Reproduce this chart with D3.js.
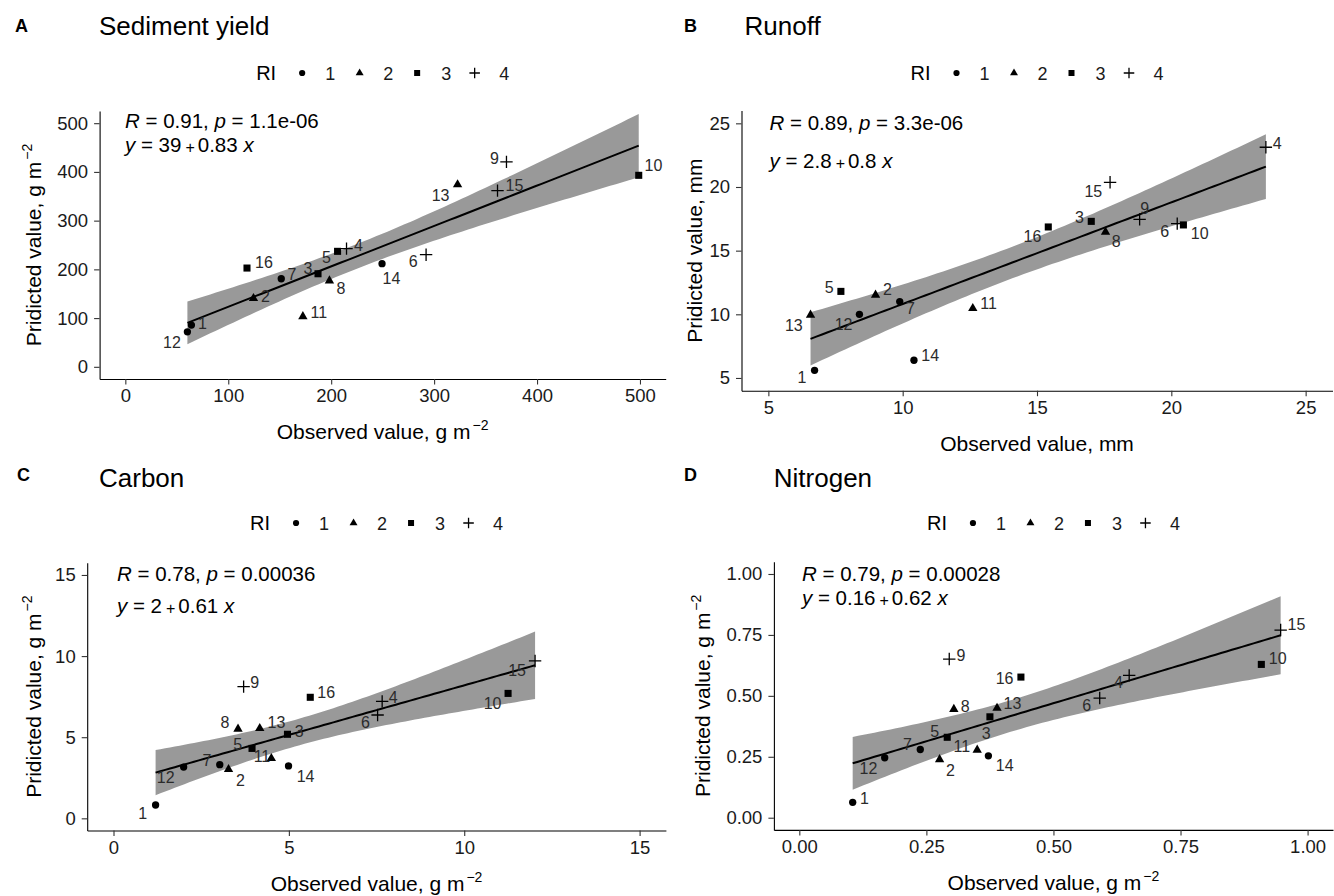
<!DOCTYPE html>
<html><head><meta charset="utf-8">
<script src="https://cdn.jsdelivr.net/npm/d3@7"></script>
<style>
body{margin:0;background:#fff}
svg{display:block}
text{font-family:"Liberation Sans", Arial, Helvetica, sans-serif}
</style>
</head><body>
<svg id="chart" width="1334" height="896"></svg>
<script>
// ---------------- DATA (sample id 1..16) ----------------
const sampleIds = [1,2,3,4,5,6,7,8,9,10,11,12,13,14,15,16];
const riGroup   = [1,2,3,4,3,4,1,2,4,3,2,1,2,1,4,3];
const riLevels  = [1,2,3,4];

const sedimentObserved  = [64.2,124.5,187.2,214.9,206.2,292.2,151.5,198.3,370.3,498.8,172.5,60.3,322.8,249.4,361.6,118.2];
const sedimentPredicted = [85.6,140.4,191.0,242.5,237.0,230.1,180.8,176.7,420.5,393.0,103.4,71.9,374.0,211.6,361.6,202.7];

const runoffObserved  = [6.72,8.99,17.02,23.52,7.70,20.22,9.89,17.55,18.82,20.45,12.61,8.39,6.57,10.42,17.72,15.42];
const runoffPredicted = [5.60,11.52,17.30,23.12,11.80,17.12,11.00,16.47,17.46,17.02,10.47,10.00,9.95,6.39,20.37,16.86];

const carbonObserved  = [1.20,3.28,4.96,7.66,3.95,7.53,3.03,3.55,3.71,11.25,4.50,2.00,4.17,4.99,12.02,5.61];
const carbonPredicted = [0.82,3.02,5.18,7.21,4.31,6.37,3.31,5.51,8.12,7.70,3.70,3.16,5.55,3.23,9.70,7.46];

const nitrogenObserved  = [0.105,0.276,0.375,0.649,0.291,0.591,0.238,0.304,0.295,0.909,0.350,0.168,0.389,0.372,0.947,0.436];
const nitrogenPredicted = [0.063,0.239,0.414,0.584,0.330,0.491,0.280,0.445,0.651,0.629,0.278,0.246,0.450,0.254,0.770,0.577];

const panelTitles = ["Sediment yield","Runoff","Carbon","Nitrogen"];
const panelTags   = ["A","B","C","D"];
const corrR = ["0.91","0.89","0.78","0.79"];
const corrP = ["1.1e-06","3.3e-06","0.00036","0.00028"];
const eqIntercept = ["39","2.8","2","0.16"];
const eqSlope     = ["0.83","0.8","0.61","0.62"];
const yTitles = ["Pridicted value, g m","Pridicted value, mm","Pridicted value, g m","Pridicted value, g m"];
const xTitles = ["Observed value, g m","Observed value, mm","Observed value, g m","Observed value, g m"];
const unitSup = [true,false,true,true];

const ticksA = [0,100,200,300,400,500];
const ticksB = [5,10,15,20,25];
const ticksC = [0,5,10,15];
const ticksD = [0,0.25,0.5,0.75,1];

// ---------------- LAYOUT (positions only) ----------------
const layout = [
  {left:99.6, right:665.7, top:111, bottom:379, xd:[-25,525], yd:[-25,525], ticks:ticksA, fmt:d3.format("d"),
   titleX:99, titleY:35, tagX:15, tagY:32, legendY:73, annX:125, annY1:128, annY2:151.5, yTitleX:40.5},
  {left:741.5, right:1332.5, top:110.6, bottom:390.7, xd:[4,26], yd:[4,26], ticks:ticksB, fmt:d3.format("d"),
   titleX:744.6, titleY:35, tagX:684, tagY:32, legendY:73, annX:769.5, annY1:130, annY2:168, yTitleX:701.5},
  {left:87.2, right:665.9, top:562.8, bottom:830.5, xd:[-0.75,15.75], yd:[-0.75,15.75], ticks:ticksC, fmt:d3.format("d"),
   titleX:99, titleY:486.7, tagX:17, tagY:481, legendY:523, annX:117, annY1:580.5, annY2:612.5, yTitleX:40.5},
  {left:773.9, right:1333, top:561.8, bottom:829.9, xd:[-0.05,1.05], yd:[-0.05,1.05], ticks:ticksD, fmt:d3.format(".2f"),
   titleX:773.8, titleY:486.7, tagX:684, tagY:481, legendY:523, annX:802, annY1:580.5, annY2:605, yTitleX:710}
];

// label nudges in px (dx, dy) per sample id 1..16 (layout of repelled labels)
const labelNudge = [
  [[11,-2],[12,-2],[-10,-6],[12,-3],[-11,6],[-13,7],[10.6,-4.3],[11.4,7],[-12,-3.7],[14.7,-9.7],[15.9,-4],[-15.5,10],[-17,10.3],[9.4,14.7],[17,-5],[17,-6.3]],
  [[-12.5,7.3],[12,-6],[-11.7,-4],[11.3,-4],[-11.7,-3.7],[-12.5,8],[10.8,7],[10.8,9.7],[5,-11],[16.3,8.3],[15.8,-5],[-15.8,10],[-16.7,10],[16.3,-5.3],[-16.7,9.3],[-15.8,9]],
  [[-13,7.7],[11.8,10.7],[11.8,-2.7],[11,-4.3],[-14.3,-4],[-12.2,7],[-12.7,-4],[-13,-7],[11,-4.7],[-15.5,9.3],[-9.4,-2.3],[-18,9.7],[16.7,-5.7],[17.1,10],[-18,9],[15.9,-5]],
  [[11.7,-4],[10.8,10.7],[-3.8,16],[-10.8,7.3],[-12.5,-5.7],[-12.9,7],[-12.9,-5],[11.3,-3.3],[11.7,-3.7],[16.3,-6],[-15.4,-4],[-16.3,10.7],[15.4,-5.3],[16.3,9.7],[15.8,-6],[-16.3,1.3]]
];

const observed  = [sedimentObserved, runoffObserved, carbonObserved, nitrogenObserved];
const predicted = [sedimentPredicted, runoffPredicted, carbonPredicted, nitrogenPredicted];

const svg = d3.select("#chart");

function drawSymbol(g, ri, x, y, scale) {
  scale = scale || 1;
  if (ri === 4) {
    const h = 6.2*scale;
    g.append("path").attr("d", `M${x-h},${y}H${x+h}M${x},${y-h}V${y+h}`)
      .attr("stroke","#000").attr("stroke-width",1.3).attr("fill","none");
  } else {
    const type = ri===1 ? d3.symbolCircle : ri===2 ? d3.symbolTriangle : d3.symbolSquare;
    const size = (ri===1 ? 42 : ri===2 ? 38 : 50) * scale*scale;
    g.append("path").attr("d", d3.symbol().type(type).size(size)())
      .attr("transform", `translate(${x},${y})`).attr("fill","#000");
  }
}

function lmFit(xs, ys) {
  const n = xs.length, xb = d3.mean(xs), yb = d3.mean(ys);
  let sxx=0, sxy=0;
  for (let i=0;i<n;i++){ sxx += (xs[i]-xb)**2; sxy += (xs[i]-xb)*(ys[i]-yb); }
  const b = sxy/sxx, a = yb - b*xb;
  let sse=0; for (let i=0;i<n;i++) sse += (ys[i]-a-b*xs[i])**2;
  const s = Math.sqrt(sse/(n-2));
  return {a,b,s,n,xb,sxx};
}
const tCrit = 2.144787; // t(0.975, df=14)

layout.forEach((L, p) => {
  const g = svg.append("g");
  const xs = observed[p], ys = predicted[p];
  const x = d3.scaleLinear().domain(L.xd).range([L.left, L.right]);
  const y = d3.scaleLinear().domain(L.yd).range([L.bottom, L.top]);

  // tag and title
  g.append("text").attr("x",L.tagX).attr("y",L.tagY).attr("font-size",18).attr("font-weight","bold").text(panelTags[p]);
  g.append("text").attr("x",L.titleX).attr("y",L.titleY).attr("font-size",26).attr("fill","#000").text(panelTitles[p]);

  // legend
  const cx = (L.left+L.right)/2, lw = 253, lx = cx - lw/2;
  const leg = g.append("g");
  leg.append("text").attr("x",lx).attr("y",L.legendY+7).attr("font-size",20).text("RI");
  riLevels.forEach((lv,i) => {
    drawSymbol(leg, lv, lx+46+57.5*i, L.legendY, 0.85);
    leg.append("text").attr("x",lx+74+58*i).attr("y",L.legendY+6.5).attr("text-anchor","middle")
      .attr("font-size",18).attr("fill","#1a1a1a").text(lv);
  });

  // fit + ribbon
  const f = lmFit(xs, ys);
  const xmin = d3.min(xs), xmax = d3.max(xs);
  const grid = d3.range(80).map(i => xmin + i*(xmax-xmin)/79);
  const band = grid.map(gx => {
    const fit = f.a + f.b*gx;
    const se = f.s*Math.sqrt(1/f.n + (gx-f.xb)**2/f.sxx);
    return {x:gx, fit, lo:fit - tCrit*se, hi:fit + tCrit*se};
  });
  g.append("path").datum(band)
    .attr("d", d3.area().x(d=>x(d.x)).y0(d=>y(d.lo)).y1(d=>y(d.hi)))
    .attr("fill","#999999");
  g.append("path").datum(band)
    .attr("d", d3.line().x(d=>x(d.x)).y(d=>y(d.fit)))
    .attr("fill","none").attr("stroke","#000").attr("stroke-width",2);

  // axes
  const xa = g.append("g").attr("transform",`translate(0,${L.bottom})`)
    .call(d3.axisBottom(x).tickValues(L.ticks).tickFormat(L.fmt).tickSize(5.5).tickPadding(4.5).tickSizeOuter(0));
  const ya = g.append("g").attr("transform",`translate(${L.left},0)`)
    .call(d3.axisLeft(y).tickValues(L.ticks).tickFormat(L.fmt).tickSize(5.5).tickPadding(6).tickSizeOuter(0));
  [xa,ya].forEach(a => {
    a.select(".domain").attr("stroke","#000").attr("stroke-width",1.1);
    a.selectAll(".tick line").attr("stroke","#333").attr("stroke-width",1.1);
    a.selectAll(".tick text").attr("font-size",18.5).attr("fill","#1a1a1a")
      .style("font-family",'"Liberation Sans", Arial, sans-serif');
  });

  // axis titles
  const xt = g.append("text").attr("x",cx).attr("y",L.bottom+60).attr("text-anchor","middle").attr("font-size",21);
  xt.append("tspan").text(xTitles[p]);
  if (unitSup[p]) xt.append("tspan").attr("font-size",14).attr("dy",-9).attr("dx",2).text("−2");
  const cy = (L.top+L.bottom)/2;
  const yt = g.append("text").attr("transform",`translate(${L.yTitleX},${cy}) rotate(-90)`).attr("text-anchor","middle").attr("font-size",21);
  yt.append("tspan").text(yTitles[p]);
  if (unitSup[p]) yt.append("tspan").attr("font-size",14).attr("dy",-9).attr("dx",2).text("−2");

  // points
  const pts = g.append("g");
  xs.forEach((v,i) => drawSymbol(pts, riGroup[i], x(v), y(ys[i]), 1));

  // point labels
  const lab = g.append("g");
  xs.forEach((v,i) => {
    const n = labelNudge[p][i];
    lab.append("text").attr("x", x(v)+n[0]).attr("y", y(ys[i])+n[1]+5.8)
      .attr("text-anchor","middle").attr("font-size",16).attr("fill","#2b2b2b").text(sampleIds[i]);
  });

  // annotations
  const t1 = g.append("text").attr("x",L.annX).attr("y",L.annY1).attr("font-size",20.5).attr("fill","#000");
  t1.append("tspan").attr("font-style","italic").text("R");
  t1.append("tspan").text(" = " + corrR[p] + ", ");
  t1.append("tspan").attr("font-style","italic").text("p");
  t1.append("tspan").text(" = " + corrP[p]);
  const t2 = g.append("text").attr("x",L.annX).attr("y",L.annY2).attr("font-size",20.5).attr("fill","#000");
  t2.append("tspan").attr("font-style","italic").text("y");
  t2.append("tspan").text(" = " + eqIntercept[p]);
  t2.append("tspan").attr("font-size",16).attr("dx",4).attr("dy",1).text("+");
  t2.append("tspan").attr("dx",3).attr("dy",-1).text(eqSlope[p] + " ");
  t2.append("tspan").attr("font-style","italic").text("x");
});
</script>
</body></html>
